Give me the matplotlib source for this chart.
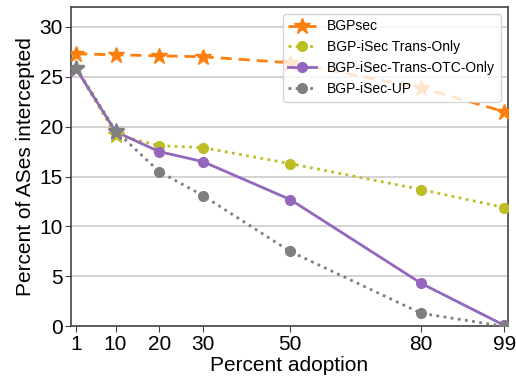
import matplotlib
matplotlib.use("Agg")
import matplotlib.pyplot as plt

plt.rcParams['font.family'] = ['Liberation Sans', 'DejaVu Sans']

adoption = [1, 10, 20, 30, 50, 80, 99]
bgpsec = [27.3, 27.2, 27.1, 27.0, 26.4, 23.9, 21.5]
trans_only = [25.8, 19.2, 18.1, 17.9, 16.3, 13.7, 11.9]
trans_otc = [25.8, 19.5, 17.5, 16.5, 12.7, 4.3, 0.1]
isec_up = [25.9, 19.6, 15.5, 13.1, 7.5, 1.3, 0.0]

fig, ax = plt.subplots(figsize=(5.16, 3.83), dpi=100)

series = [
    ("BGPsec", bgpsec, "#ff7f0e", (0, (4, 2.5))),
    ("BGP-iSec Trans-Only", trans_only, "#bcbd22", (0, (1, 1.6))),
    ("BGP-iSec-Trans-OTC-Only", trans_otc, "#9467bd", "-"),
    ("BGP-iSec-UP", isec_up, "#7f7f7f", (0, (1, 1.6))),
]

for name, vals, col, ls in series:
    if name == "BGPsec":
        ax.plot(adoption, vals, color=col, ls=ls, lw=2, marker="*", ms=12,
                label=name, zorder=3)
    else:
        ax.plot(adoption, vals, color=col, ls=ls, lw=2, marker="o", ms=7,
                markevery=list(range(2, len(adoption))), label=name, zorder=3)
        # first two points drawn as stars
        ax.plot(adoption[:2], vals[:2], ls="none", marker="*", ms=12,
                color=col, zorder=4)

ax.set_xlim(-0.15, 99.8)
ax.set_ylim(0, 32)
ax.set_xticks(adoption)
ax.set_yticks([0, 5, 10, 15, 20, 25, 30])
ax.tick_params(labelsize=15, direction="out", length=4, color="#444444", pad=2)
ax.yaxis.grid(True, color="#cccccc", lw=1.2)
ax.set_axisbelow(True)
for s in ax.spines.values():
    s.set_color("#444444")
    s.set_linewidth(1.2)

ax.set_xlabel("Percent adoption", fontsize=15, labelpad=2)
ax.set_ylabel("Percent of ASes intercepted", fontsize=15, labelpad=3)
ax.legend(loc="upper right", fontsize=10, framealpha=0.8, edgecolor="#cccccc")

fig.subplots_adjust(left=0.138, right=0.984, top=0.982, bottom=0.148)
fig.savefig("out.png", dpi=100)
